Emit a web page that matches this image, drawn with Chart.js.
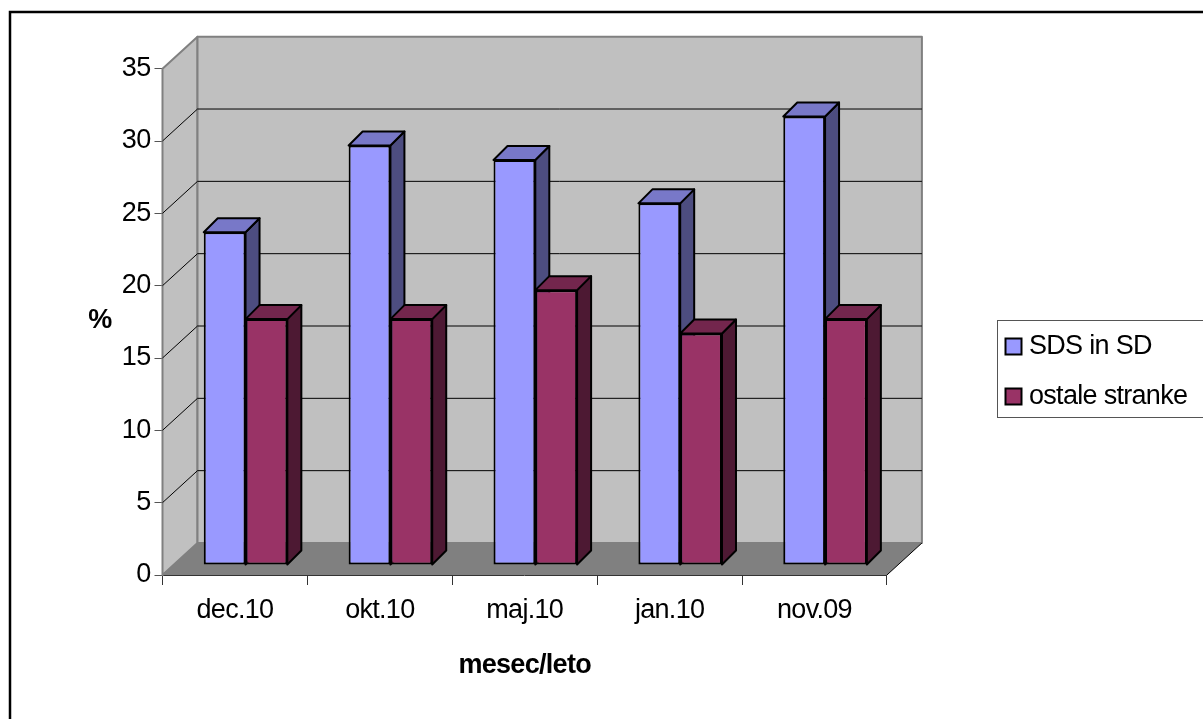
<!DOCTYPE html>
<html>
<head>
<meta charset="utf-8">
<title>mesec/leto</title>
<script src="https://cdn.jsdelivr.net/npm/chart.js@4"></script>
<style>
  html, body { margin: 0; padding: 0; background: #fff; }
  canvas { display: block; }
</style>
</head>
<body>
<canvas id="pollChart" width="1203" height="719"></canvas>
<script>
// Chart data
const months = ["dec.10", "okt.10", "maj.10", "jan.10", "nov.09"];
const sdsValues = [23, 29, 28, 25, 31];
const otherValues = [17, 17, 19, 16, 17];

const FONT = "'Liberation Sans', Arial, sans-serif";
const FONT_SIZE = 27;
const LETTER_SPACING = "-0.7px";

// Depth of the fake 3D box and of the bars
const WALL_DX = 35;
const WALL_DY = 32;
const BAR_SHIFT_X = 10.6;
const BAR_SHIFT_Y = 10;
const BAR_DEPTH = 14;

function polygon(ctx, points, fill, stroke, lineWidth) {
  ctx.beginPath();
  points.forEach((p, i) => (i ? ctx.lineTo(p[0], p[1]) : ctx.moveTo(p[0], p[1])));
  ctx.closePath();
  ctx.fillStyle = fill;
  ctx.fill();
  if (stroke) {
    ctx.strokeStyle = stroke;
    ctx.lineWidth = lineWidth || 1;
    ctx.lineJoin = "round";
    ctx.stroke();
  }
}

function line(ctx, x1, y1, x2, y2, color, width) {
  ctx.beginPath();
  ctx.moveTo(x1, y1);
  ctx.lineTo(x2, y2);
  ctx.strokeStyle = color;
  ctx.lineWidth = width;
  ctx.stroke();
}

// Page frame, legend frame and the "%" label
const framePlugin = {
  id: "frame",
  beforeUpdate(chart) {
    chart.ctx.letterSpacing = LETTER_SPACING;
  },
  afterLayout(chart) {
    const legend = chart.legend;
    legend.left = 988.5;
    legend.right = 1300;
    legend.top = 12;
    legend.bottom = 731;
  },
  beforeDraw(chart) {
    const ctx = chart.ctx;
    ctx.letterSpacing = LETTER_SPACING;
    ctx.save();
    ctx.strokeStyle = "#000";
    ctx.lineWidth = 2.5;
    ctx.strokeRect(10, 12, 1300, 800);
    ctx.fillStyle = "#fff";
    ctx.fillRect(997, 320, 206, 98);
    ctx.strokeStyle = "#555";
    ctx.lineWidth = 1;
    ctx.strokeRect(997.5, 320.5, 210, 97);
    ctx.fillStyle = "#000";
    ctx.font = "bold " + FONT_SIZE + "px " + FONT;
    ctx.textAlign = "center";
    ctx.textBaseline = "middle";
    ctx.fillText("%", 100, 321);
    ctx.restore();
  },
};

// Walls, floor, gridlines and the side and top faces of the bars
const boxPlugin = {
  id: "box3d",
  beforeDatasetsDraw(chart) {
    const ctx = chart.ctx;
    const { left, right } = chart.chartArea;
    const y = chart.scales.y;
    const y0 = y.getPixelForValue(0);
    const yMax = y.getPixelForValue(y.max);
    ctx.save();
    polygon(ctx, [[left, y0], [left + WALL_DX, y0 - WALL_DY], [left + WALL_DX, yMax - WALL_DY], [left, yMax]], "#c0c0c0", "#808080", 2);
    polygon(ctx, [[left + WALL_DX, y0 - WALL_DY], [right + WALL_DX, y0 - WALL_DY], [right + WALL_DX, yMax - WALL_DY], [left + WALL_DX, yMax - WALL_DY]], "#c0c0c0", "#808080", 2);
    y.ticks.forEach((tick) => {
      if (tick.value <= 0 || tick.value >= y.max) return;
      const py = y.getPixelForValue(tick.value);
      line(ctx, left, py, left + WALL_DX, py - WALL_DY, "#000", 1);
      line(ctx, left + WALL_DX, py - WALL_DY, right + WALL_DX, py - WALL_DY, "#000", 1);
    });
    polygon(ctx, [[left, y0], [right, y0], [right + WALL_DX, y0 - WALL_DY], [left + WALL_DX, y0 - WALL_DY]], "#808080");
    line(ctx, right, y0, right + WALL_DX, y0 - WALL_DY, "#000", 1);

    // Side and top faces, blue first so the red top covers the blue side
    ctx.translate(BAR_SHIFT_X, -BAR_SHIFT_Y);
    chart.data.datasets.forEach((ds, i) => {
      chart.getDatasetMeta(i).data.forEach((bar) => {
        const half = bar.width / 2;
        const l = bar.x - half;
        const r = bar.x + half;
        polygon(ctx, [[r, bar.y], [r + BAR_DEPTH, bar.y - BAR_DEPTH], [r + BAR_DEPTH, bar.base - BAR_DEPTH], [r, bar.base]], ds.sideColor, "#000", 2);
        polygon(ctx, [[l, bar.y], [l + BAR_DEPTH, bar.y - BAR_DEPTH], [r + BAR_DEPTH, bar.y - BAR_DEPTH], [r, bar.y]], ds.topColor, "#000", 2);
      });
    });
    ctx.restore();
  },
  // Fronts of the bars sit a bit inside the box
  beforeDatasetDraw(chart) {
    chart.ctx.save();
    chart.ctx.translate(BAR_SHIFT_X, -BAR_SHIFT_Y);
  },
  afterDatasetDraw(chart) {
    chart.ctx.restore();
  },
};

new Chart(document.getElementById("pollChart").getContext("2d"), {
  type: "bar",
  data: {
    labels: months,
    datasets: [
      {
        label: "SDS in SD",
        data: sdsValues,
        backgroundColor: "#9999ff",
        borderColor: "#000",
        borderWidth: 2,
        borderSkipped: false,
        topColor: "#7878c8",
        sideColor: "#4d4d80",
      },
      {
        label: "ostale stranke",
        data: otherValues,
        backgroundColor: "#993366",
        borderColor: "#000",
        borderWidth: 2,
        borderSkipped: false,
        topColor: "#73264d",
        sideColor: "#4d1933",
      },
    ],
  },
  options: {
    responsive: false,
    animation: false,
    categoryPercentage: 0.577,
    barPercentage: 1,
    layout: { padding: { top: 68.7, right: 107.3, left: 0, bottom: 0 } },
    plugins: {
      tooltip: { enabled: false },
      legend: {
        position: "right",
        labels: {
          usePointStyle: true,
          pointStyle: "rect",
          boxWidth: 4,
          boxHeight: 16,
          padding: 23,
          color: "#000",
          font: { family: FONT, size: FONT_SIZE },
        },
      },
    },
    scales: {
      x: {
        afterFit(scale) {
          scale.height = 144;
        },
        grid: { drawOnChartArea: false, tickLength: 10, color: "#333" },
        border: { color: "#333" },
        ticks: { color: "#000", padding: 9, maxRotation: 0, font: { family: FONT, size: FONT_SIZE } },
        title: {
          display: true,
          text: "mesec/leto",
          color: "#000",
          padding: { top: 0, bottom: 37 },
          font: { family: FONT, size: FONT_SIZE, weight: "bold" },
        },
      },
      y: {
        min: 0,
        max: 35,
        afterFit(scale) {
          scale.width = 162.5;
        },
        grid: { drawOnChartArea: false, tickLength: 8, color: "#555" },
        border: { color: "#555" },
        ticks: { stepSize: 5, color: "#000", padding: 4, font: { family: FONT, size: FONT_SIZE } },
      },
    },
  },
  plugins: [framePlugin, boxPlugin],
});
</script>
</body>
</html>
